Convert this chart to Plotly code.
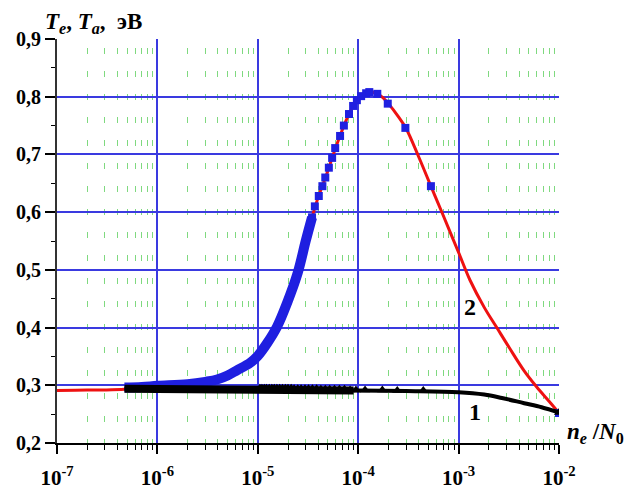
import plotly.graph_objects as go

# ---- data ----
# curve 2 (red line)
n_red = [1e-7, 2e-7, 3e-7, 4.7e-7, 7e-7, 1e-6, 2e-6, 3e-6, 3.93e-6, 5e-6, 6.2e-6, 8.4e-6, 1e-5, 1.24e-5,
         1.55e-5, 1.95e-5, 2.5e-5, 3e-5, 3.47e-5, 4e-5, 4.5e-5, 5e-5, 5.5e-5, 6e-5, 7e-5, 8e-5, 9e-5,
         1e-4, 1.15e-4, 1.3e-4, 1.5e-4, 1.75e-4, 2e-4, 2.5e-4, 3e-4, 4e-4, 5.3e-4, 7e-4, 1e-3, 1.3e-3,
         1.8e-3, 2.4e-3, 3.2e-3, 4.5e-3, 6e-3, 8e-3, 1e-2]
t_red = [0.291, 0.292, 0.292, 0.293, 0.296, 0.299, 0.302, 0.306, 0.310, 0.317, 0.326, 0.339, 0.351, 0.373,
         0.401, 0.442, 0.495, 0.550, 0.591, 0.626, 0.650, 0.672, 0.694, 0.713, 0.744, 0.768, 0.785,
         0.796, 0.804, 0.808, 0.806, 0.799, 0.788, 0.766, 0.745, 0.696, 0.645, 0.595, 0.530, 0.482,
         0.435, 0.400, 0.365, 0.325, 0.297, 0.272, 0.252]

# curve 2 markers: dense part (merged band) and separate squares
n_blue_dense = [4.7e-7, 7e-7, 1e-6, 2e-6, 3e-6, 3.93e-6, 5e-6, 6.2e-6, 8.4e-6, 1e-5, 1.24e-5,
                1.55e-5, 1.95e-5, 2.5e-5, 3e-5, 3.47e-5]
t_blue_dense = [0.296, 0.297, 0.299, 0.302, 0.306, 0.310, 0.317, 0.326, 0.339, 0.351, 0.373,
                0.401, 0.442, 0.495, 0.550, 0.591]
n_blue = [3.47e-5, 3.7e-5, 4.05e-5, 4.4e-5, 4.7e-5, 5.1e-5, 5.5e-5, 5.9e-5, 6.6e-5, 7.2e-5, 8.1e-5,
          8.9e-5, 9.7e-5, 1.07e-4, 1.2e-4, 1.29e-4, 1.55e-4, 1.97e-4, 2.95e-4, 5.3e-4, 1e-2]
t_blue = [0.591, 0.610, 0.628, 0.645, 0.660, 0.677, 0.694, 0.711, 0.732, 0.750, 0.770,
          0.784, 0.794, 0.801, 0.806, 0.808, 0.805, 0.788, 0.746, 0.645, 0.252]

# curve 1 (black line)
n_black = [4.7e-7, 1e-6, 1e-5, 3e-5, 1e-4, 3e-4, 1e-3, 1.8e-3, 2.7e-3, 4.5e-3, 6.7e-3, 1e-2]
t_black = [0.294, 0.294, 0.294, 0.293, 0.291, 0.290, 0.288, 0.284, 0.278, 0.269, 0.262, 0.253]
n_black_dense = [4.7e-7, 1e-6, 1e-5, 3e-5, 9e-5]
t_black_dense = [0.294, 0.294, 0.294, 0.293, 0.291]
n_tri = [1.05e-5, 1.1e-5, 1.16e-5, 1.22e-5, 1.3e-5, 1.38e-5, 1.46e-5, 1.55e-5, 1.65e-5, 1.76e-5,
         1.88e-5, 2e-5, 2.15e-5, 2.3e-5, 2.5e-5, 2.7e-5, 2.95e-5, 3.2e-5, 3.5e-5, 3.85e-5, 4.25e-5,
         4.7e-5, 5.2e-5, 5.8e-5, 6.5e-5, 7.3e-5, 8.3e-5, 9.5e-5, 1.17e-4, 1.74e-4, 2.45e-4,
         4.45e-4, 1e-2]
t_tri = [0.295, 0.295, 0.295, 0.295, 0.295, 0.295, 0.295, 0.295, 0.295, 0.295,
         0.295, 0.295, 0.295, 0.294, 0.294, 0.294, 0.294, 0.294, 0.294, 0.294, 0.293,
         0.293, 0.293, 0.293, 0.293, 0.293, 0.292, 0.292, 0.292, 0.292, 0.291,
         0.291, 0.253]

x_tickvals = [1e-7, 1e-6, 1e-5, 1e-4, 1e-3, 1e-2]
x_ticktext = ["10<sup>-7</sup>", "10<sup>-6</sup>", "10<sup>-5</sup>", "10<sup>-4</sup>",
              "10<sup>-3</sup>", "10<sup>-2</sup>"]
y_tickvals = [0.2, 0.3, 0.4, 0.5, 0.6, 0.7, 0.8, 0.9]
y_ticktext = ["0,2", "0,3", "0,4", "0,5", "0,6", "0,7", "0,8", "0,9"]

SERIF = "Liberation Serif"
BLUE = "#1f1fe0"

fig = go.Figure()
fig.add_trace(go.Scatter(x=n_red, y=t_red, mode="lines", line=dict(color="#ee1111", width=3, shape="spline"),
                         showlegend=False, hoverinfo="skip"))
fig.add_trace(go.Scatter(x=n_blue_dense, y=t_blue_dense, mode="lines",
                         line=dict(color=BLUE, width=10, shape="spline"), showlegend=False))
fig.add_trace(go.Scatter(x=n_blue, y=t_blue, mode="markers",
                         marker=dict(symbol="square", size=8, color=BLUE), showlegend=False))
fig.add_trace(go.Scatter(x=n_black, y=t_black, mode="lines",
                         line=dict(color="black", width=4, shape="spline"), showlegend=False))
fig.add_trace(go.Scatter(x=n_black_dense, y=t_black_dense, mode="lines",
                         line=dict(color="black", width=8), showlegend=False))
fig.add_trace(go.Scatter(x=n_tri, y=t_tri, mode="markers",
                         marker=dict(symbol="triangle-up", size=9, color="black"), showlegend=False))

# page body has an 8px margin, so the figure is sized/offset accordingly
fig.update_layout(
    width=624, height=481,
    margin=dict(l=49, r=73, t=31, b=46),
    paper_bgcolor="white", plot_bgcolor="white",
    font=dict(family=SERIF, color="black"),
    xaxis=dict(
        type="log", range=[-7, -2], automargin=False,
        tickvals=x_tickvals, ticktext=x_ticktext,
        tickfont=dict(family=SERIF, size=21, color="black", weight="bold"),
        ticks="outside", ticklen=9, tickwidth=1.5, tickcolor="black",
        ticklabelstandoff=6,
        showline=True, linecolor="black", linewidth=2,
        showgrid=True, gridcolor="#3a3ae0", gridwidth=1.5,
        zeroline=False,
        minor=dict(dtick="D1", ticks="outside", ticklen=5, tickcolor="black", tickwidth=1,
                   showgrid=True, gridcolor="#7fd97f", gridwidth=1.3,
                   griddash="0px,9px,6px,8px"),
    ),
    yaxis=dict(
        range=[0.2, 0.9], automargin=False,
        tickvals=y_tickvals, ticktext=y_ticktext,
        tickfont=dict(family=SERIF, size=20, color="black", weight="bold"),
        ticks="outside", ticklen=10, tickwidth=1.5, tickcolor="black",
        showline=True, linecolor="#333333", linewidth=2,
        showgrid=True, gridcolor="#3a3ae0", gridwidth=1.5,
        zeroline=False,
        minor=dict(dtick=0.05, ticks="outside", ticklen=4, tickcolor="black", tickwidth=1,
                   showgrid=False),
    ),
)

fig.add_annotation(text="<b><i>T<sub>e</sub></i>, <i>T<sub>a</sub></i>,  эВ</b>",
                   xref="paper", yref="paper", x=0.0, y=1.0, xanchor="left", yanchor="bottom",
                   yshift=0, xshift=-14, showarrow=False, font=dict(family=SERIF, size=23, color="black"))
fig.add_annotation(text="<b><i>n<sub>e</sub></i> /<i>N</i><sub>0</sub></b>",
                   xref="paper", yref="paper", x=1.0, y=0.0, xanchor="left", yanchor="bottom",
                   xshift=6, yshift=-6, showarrow=False, font=dict(family=SERIF, size=23, color="black"))
fig.add_annotation(text="<b>2</b>", x=-2.886, y=0.436, xref="x", yref="y", showarrow=False,
                   font=dict(family=SERIF, size=24, color="black"))
fig.add_annotation(text="<b>1</b>", x=-2.84, y=0.254, xref="x", yref="y", showarrow=False,
                   font=dict(family=SERIF, size=24, color="black"))

fig.write_html("out.html")
